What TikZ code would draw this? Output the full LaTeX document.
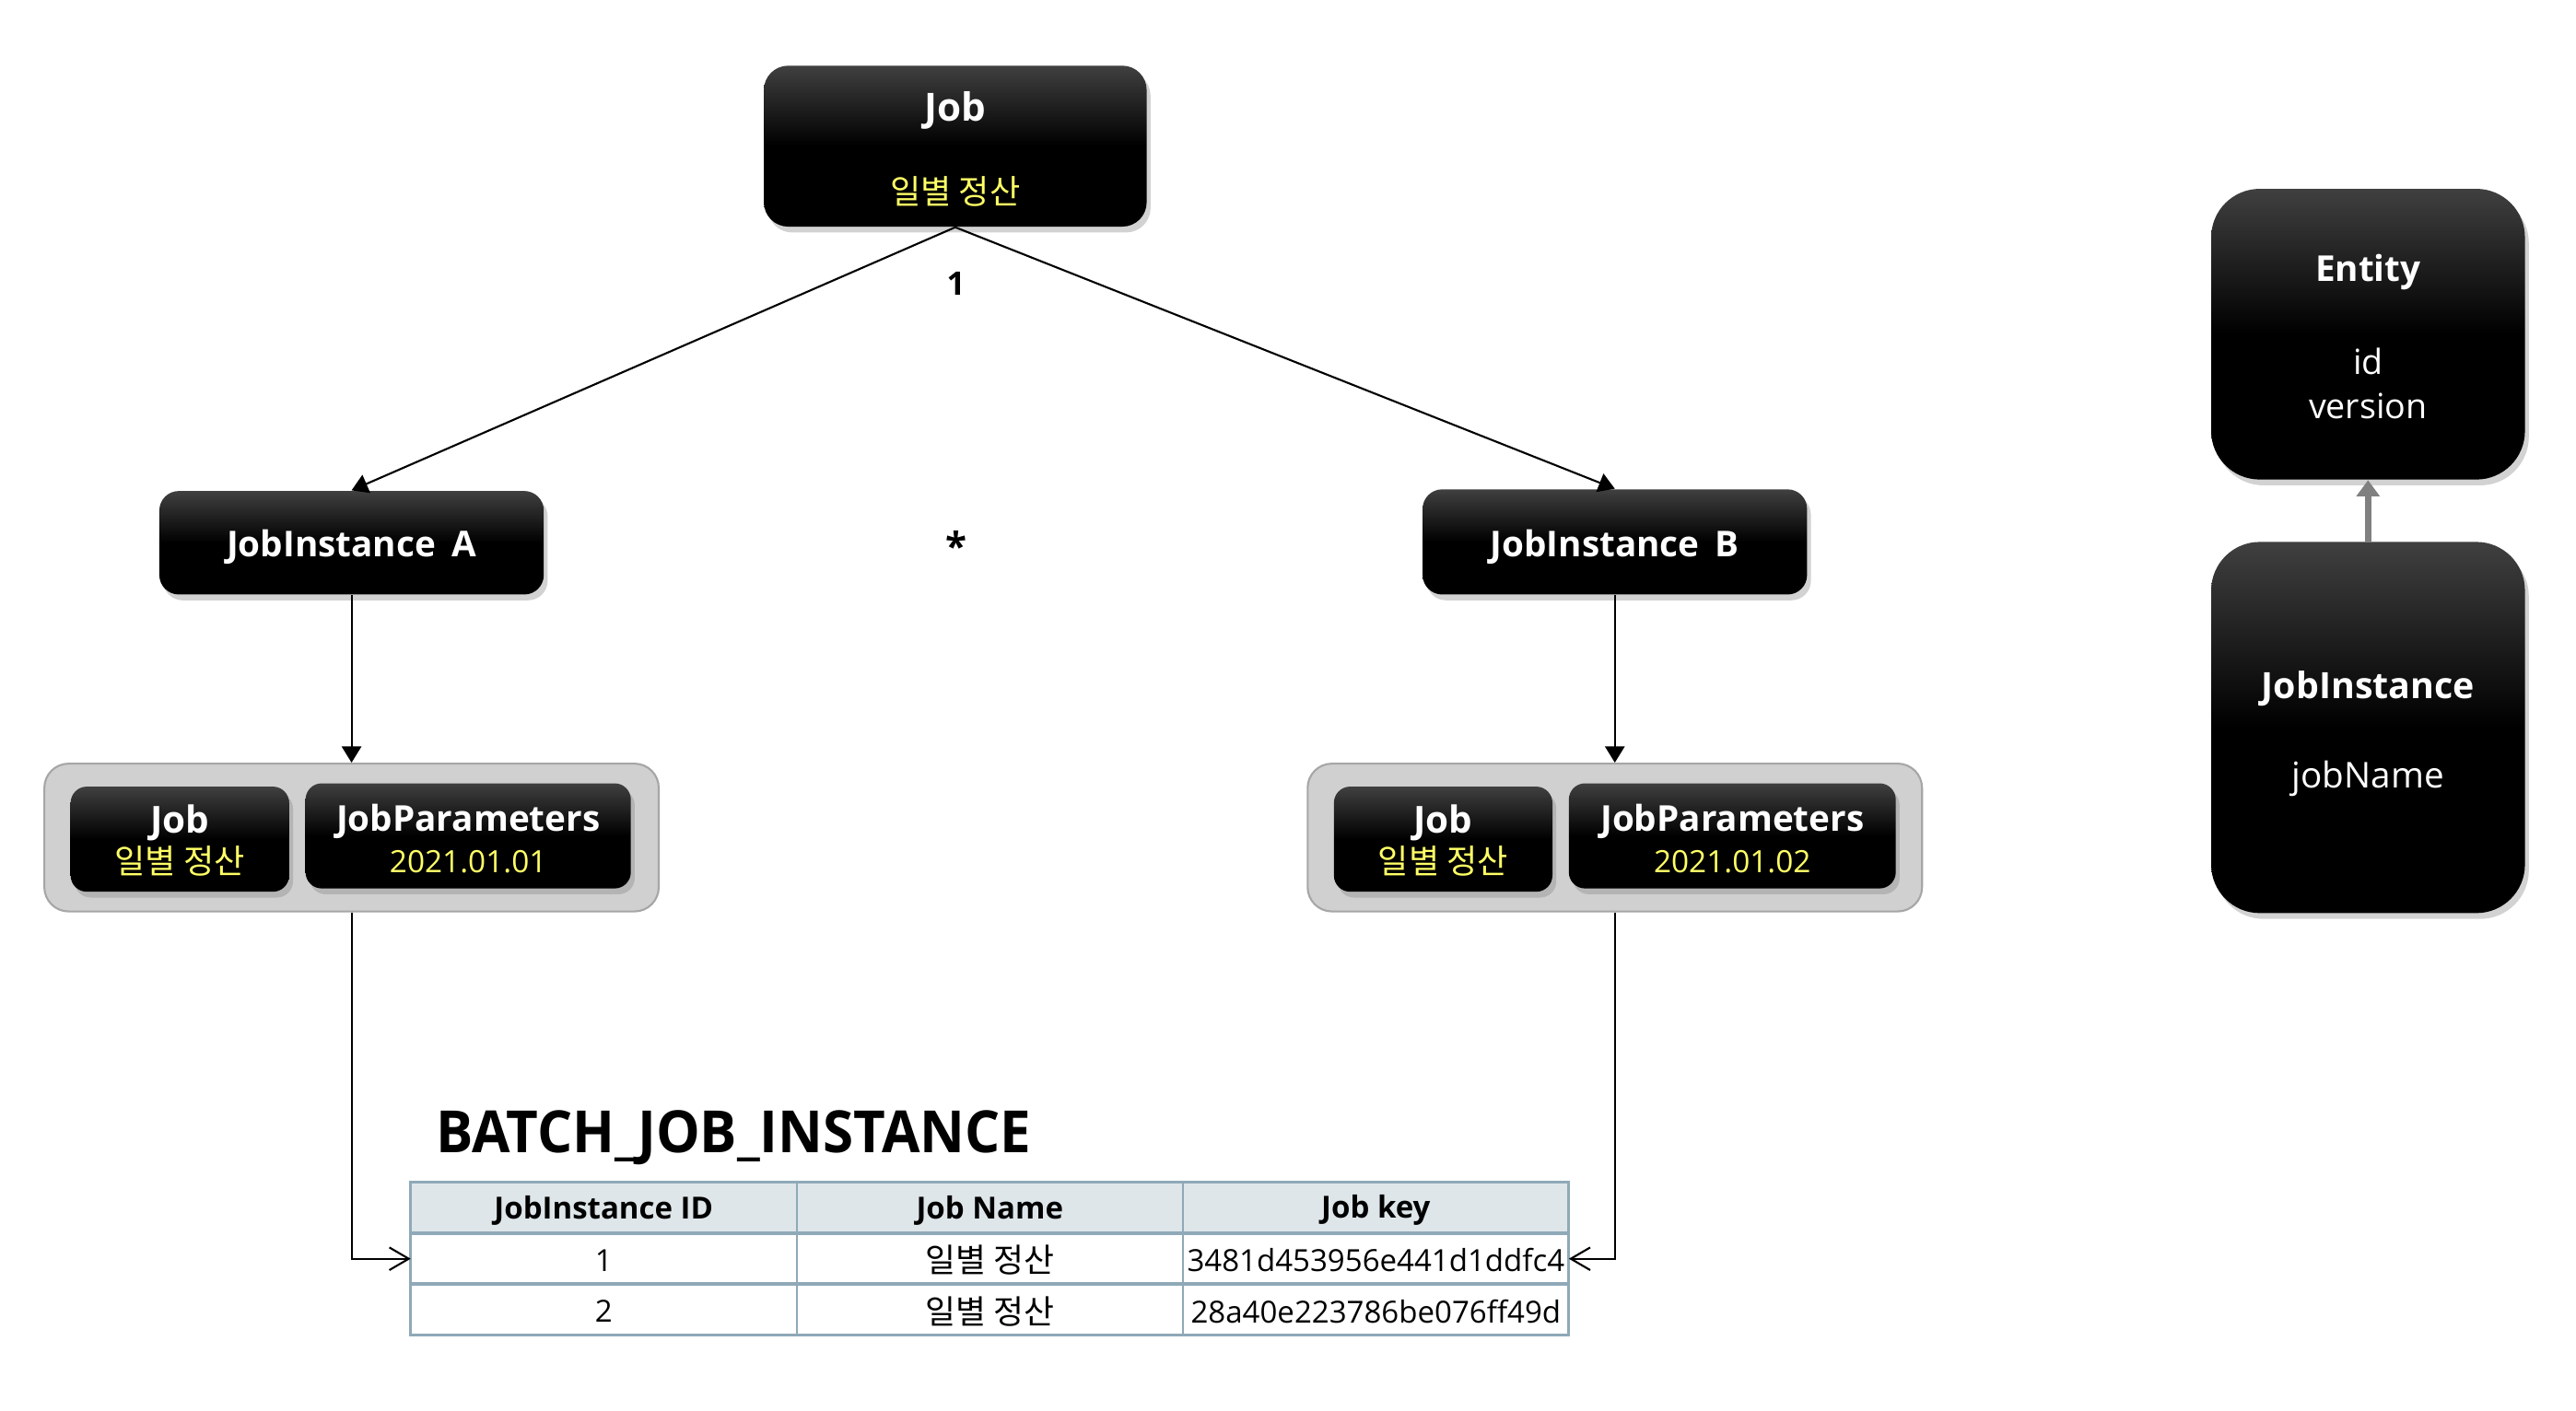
\documentclass[tikz,border=0pt]{standalone}
\usepackage{graphicx}
\usepackage{fontspec}
\setmainfont{Open Sans}
\newfontfamily\krfont{Noto Sans CJK KR}
\usetikzlibrary{arrows.meta,shadows,calc}
\definecolor{yel}{RGB}{255,255,102}
\definecolor{grpfill}{RGB}{208,208,208}
\definecolor{grpdraw}{RGB}{166,166,166}
\definecolor{tblline}{RGB}{143,169,184}
\definecolor{tblhead}{RGB}{222,230,234}
\definecolor{inhgray}{RGB}{128,128,128}
\newdimen\pxu \pxu=0.01783cm
\begin{document}
\begin{tikzpicture}[x=0.01783cm,y=-0.01783cm,
 darkbox/.style={inner sep=0pt, top color=black!75, bottom color=black, middle color=black,
   drop shadow={opacity=0.35,shadow xshift=1.2pt,shadow yshift=-1.8pt}},
 grpbox/.style={inner sep=0pt, fill=grpfill, draw=grpdraw, line width=0.6pt, rounded corners=7.5pt},
 ttl/.style={text=white, inner sep=0pt, font=\fontsize{11.5}{13}\selectfont\bfseries},
 sub/.style={text=yel, inner sep=0pt, font=\krfont\fontsize{10.3}{12}\selectfont},
 subnum/.style={text=yel, inner sep=0pt, font=\fontsize{9.5}{11}\selectfont},
 wtxt/.style={text=white, inner sep=0pt, font=\fontsize{10.7}{13}\selectfont},
 conn/.style={draw=black, line width=0.6pt, -{Triangle[length=5pt,width=6pt]}},
 tconn/.style={draw=black, line width=0.6pt, -{Straight Barb[length=6pt,width=7pt]}},
 hd/.style={inner sep=0pt, font=\fontsize{9.4}{11}\selectfont\bfseries},
 cell/.style={inner sep=0pt, font=\fontsize{9.4}{11}\selectfont},
 kcell/.style={inner sep=0pt, font=\krfont\fontsize{10.2}{12}\selectfont},
]
\path[fill=white] (0,0) rectangle (1568.1,859.2);
\useasboundingbox (0,0) rectangle (1568.1,859.2);

% top Job
\node[darkbox, rounded corners=7.5pt, minimum width=233\pxu, minimum height=98\pxu] (job) at (581.5,89) {};
\node[ttl, font=\fontsize{12}{14}\selectfont\bfseries] (jobT) at (581.5,67) {Job};
\node[sub] (jobS) at (581.5,116.5) {일별 정산};

% job instances
\node[darkbox, rounded corners=6pt, minimum width=234\pxu, minimum height=63\pxu] (jiA) at (214,330.5) {};
\node[ttl, font=\fontsize{11}{13}\selectfont\bfseries] (jiAT) at (214,333) {JobInstance\hspace{0.45em}A};
\node[darkbox, rounded corners=6pt, minimum width=234\pxu, minimum height=64\pxu] (jiB) at (983,330) {};
\node[ttl, font=\fontsize{11}{13}\selectfont\bfseries] (jiBT) at (983,333) {JobInstance\hspace{0.45em}B};

\node[inner sep=0pt, font=\fontsize{10}{12}\selectfont\bfseries] (one) at (582,172.5) {1};
\node[inner sep=0pt, font=\fontsize{12}{14}\selectfont\bfseries] (many) at (582,332.5) {*};

% group A
\node[grpbox, minimum width=374\pxu, minimum height=90\pxu] (grpA) at (214,510) {};
\node[darkbox, rounded corners=5pt, minimum width=133\pxu, minimum height=64\pxu] (gAjob) at (109.5,511) {};
\node[ttl] (gAjobT) at (109.5,501) {Job};
\node[sub] (gAjobS) at (109.5,524.5) {일별 정산};
\node[darkbox, rounded corners=5pt, minimum width=198\pxu, minimum height=64\pxu] (gApar) at (285,509) {};
\node[ttl, font=\fontsize{11}{13}\selectfont\bfseries] (gAparT) at (285,500) {JobParameters};
\node[subnum] (gAparS) at (285,524.5) {2021.01.01};

% group B
\node[grpbox, minimum width=374\pxu, minimum height=90\pxu] (grpB) at (983,510) {};
\node[darkbox, rounded corners=5pt, minimum width=133\pxu, minimum height=64\pxu] (gBjob) at (878.5,511) {};
\node[ttl] (gBjobT) at (878.5,501) {Job};
\node[sub] (gBjobS) at (878.5,524.5) {일별 정산};
\node[darkbox, rounded corners=5pt, minimum width=199\pxu, minimum height=64\pxu] (gBpar) at (1054.5,509) {};
\node[ttl, font=\fontsize{11}{13}\selectfont\bfseries] (gBparT) at (1054.5,500) {JobParameters};
\node[subnum] (gBparS) at (1054.5,524.5) {2021.01.02};

% right side boxes
\node[darkbox, rounded corners=15pt, minimum width=191\pxu, minimum height=177\pxu] (ent) at (1441.5,203.5) {};
\node[ttl, font=\fontsize{11}{13}\selectfont\bfseries] (entT) at (1441.5,165.5) {Entity};
\node[wtxt] (entA) at (1441.5,220) {id};
\node[wtxt] (entB) at (1441.5,247) {version};
\node[darkbox, rounded corners=15pt, minimum width=191\pxu, minimum height=226\pxu] (jir) at (1441.5,443) {};
\node[ttl, font=\fontsize{11.2}{13}\selectfont\bfseries] (jirT) at (1441.5,419.5) {JobInstance};
\node[wtxt, font=\fontsize{11}{13}\selectfont] (jirA) at (1441.5,474) {jobName};

% table
\node[anchor=west, inner sep=0pt, font=\fontsize{18}{21}\selectfont\bfseries] (title) at (265,693) {\scalebox{0.95}[1]{BATCH\_JOB\_INSTANCE}};
\fill[tblhead] (250,720) rectangle (955,751);
\draw[tblline, line width=0.6pt] (485,720) -- (485,813) (720,720) -- (720,813);
\draw[tblline, line width=1.1pt] (250,751) -- (955,751) (250,782) -- (955,782);
\draw[tblline, line width=0.8pt] (250,720) rectangle (955,813);
\node[hd] (h1) at (367.5,737) {JobInstance ID};
\node[hd] (h2) at (602.5,737) {Job Name};
\node[hd] (h3) at (837.5,737) {Job key};
\node[cell] (r1a) at (367.5,767.5) {1};
\node[kcell] (r1b) at (602.5,767.5) {일별 정산};
\node[cell] (r1c) at (837.5,767.5) {3481d453956e441d1ddfc4};
\node[cell] (r2a) at (367.5,798.5) {2};
\node[kcell] (r2b) at (602.5,798.5) {일별 정산};
\node[cell] (r2c) at (837.5,798.5) {28a40e223786be076ff49d};
\coordinate (t1w) at (250,766.5);
\coordinate (t1e) at (955,766.5);

% connectors
\draw[conn] (job.south) -- (jiA.north);
\draw[conn] (job.south) -- (jiB.north);
\draw[conn] (jiA.south) -- (grpA.north);
\draw[conn] (jiB.south) -- (grpB.north);
\draw[tconn] (grpA.south) |- (t1w);
\draw[tconn] (grpB.south) |- (t1e);
\draw[inhgray, line width=2pt, -{Triangle[length=5pt,width=7pt]}] (jir.north) -- (ent.south);
\end{tikzpicture}
\end{document}
